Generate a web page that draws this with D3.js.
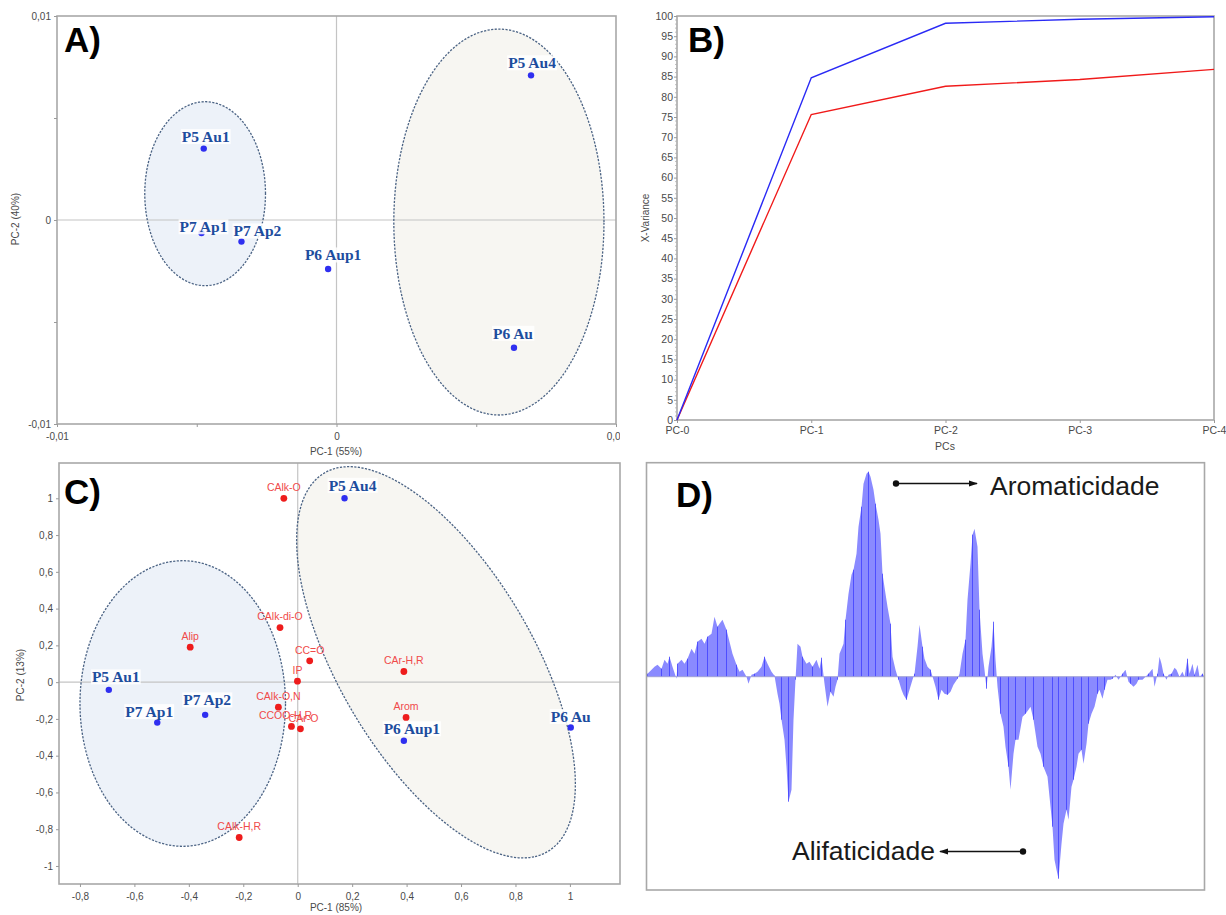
<!DOCTYPE html>
<html><head><meta charset="utf-8">
<script src="https://cdn.jsdelivr.net/npm/d3@7"></script>
<style>body{margin:0;background:#fff} svg{display:block}</style>
</head><body>
<svg id="fig" width="1226" height="915"></svg>
<script>
// ---------------- DATA ----------------
const samples = ["P5 Au4","P5 Au1","P7 Ap1","P7 Ap2","P6 Aup1","P6 Au"];
// Panel A: PCA scores
const scoresA_pc1 = [0.00696,-0.00475,-0.00483,-0.00340,-0.00030,0.00635];
const scoresA_pc2 = [0.00709,0.00350,-0.00064,-0.00106,-0.00240,-0.00626];
// ellipses: [cx, cy, rx, ry, angleDeg]
const ellipsesA = [[-0.00470,0.00129,0.00216,0.00451,0],[0.00581,-0.0001,0.00376,0.00946,0]];
const ticksA = [-0.01,-0.005,0,0.005,0.01];
const tickLabelsA = [-0.01,0,0.01];
// Panel B: explained variance
const pcs = ["PC-0","PC-1","PC-2","PC-3","PC-4"];
const varianceCal = [0,84.7,98.2,99.2,99.8];
const varianceVal = [0,75.6,82.6,84.3,86.8];
const ticksB = d3.range(0,101,5);
// Panel C: biplot
const scoresC_pc1 = [0.172,-0.694,-0.516,-0.340,0.390,1.003];
const scoresC_pc2 = [1.000,-0.042,-0.220,-0.178,-0.319,-0.247];
const loadingNames = ["CAlk-O","CAlk-di-O","Alip","CC=O","IP","CAr-H,R","CAlk-O,N","Arom","CCOO-H,R","CAr-O","CAlk-H,R"];
const loadingsC_pc1 = [-0.051,-0.065,-0.395,0.044,-0.001,0.390,-0.071,0.398,-0.023,0.010,-0.215];
const loadingsC_pc2 = [1.000,0.297,0.190,0.116,0.005,0.058,-0.136,-0.192,-0.241,-0.254,-0.845];
const ellipsesC = [[-0.4224,-0.1163,0.3776,0.777,0],[0.508,0.108,1.118,0.381,-71]];
const ticksCx = [-0.8,-0.6,-0.4,-0.2,0,0.2,0.4,0.6,0.8,1];
const ticksCy = [-1,-0.8,-0.6,-0.4,-0.2,0,0.2,0.4,0.6,0.8,1];
// Panel D: loading spectrum (variable index, loading)
const dIdx = [0,1,8,11,15,18,21,23,26,30,31,35,38,41,45,48,51,55,58,61,65,68,71,73,76,80,83,86,90,93,96,100,102,105,108,111,115,118,121,125,128,131,133,135,138,140,142,145,147,149,151,154,156,160,163,166,170,173,175,178,181,184,187,189,191,193,197,199,202,205,207,210,212,215,217,220,222,224,227,229,232,234,236,239,241,244,246,249,252,255,257,260,263,266,268,271,273,276,278,281,284,287,289,292,295,298,301,304,307,311,313,316,319,321,324,326,328,331,333,336,338,340,342,345,347,349,351,354,357,359,362,364,367,369,372,376,379,382,384,387,391,394,397,401,403,406,408,410,412,415,417,420,422,425,427,430,432,435,437,440,442,445,448,451,453,456,458,461,464,466,469,472,476,479,482,484,487,490,492,496,499,502,506,508,511,513,515,517,520,522,525,528,530,533,536,538,541,543,546,548,551,553,556,558];
const dLoad = [0,0.003,0.010,0.012,0.008,0.017,0.013,0.020,0.010,-0.002,0.013,0.017,0.013,0.018,0.028,0.023,0.035,0.038,0.033,0.040,0.043,0.060,0.050,0.053,0.057,0.047,0.035,0.023,0.012,0.005,0.007,0.000,-0.007,0.002,0.003,0.005,0.010,0.020,0.013,0.005,0.001,-0.017,-0.027,-0.043,-0.063,-0.090,-0.125,-0.113,-0.043,-0.003,0.033,0.030,0.020,0.013,0.015,0.010,0.017,0.008,0.019,-0.007,-0.030,-0.015,-0.020,-0.010,-0.003,0.023,0.033,0.057,0.083,0.102,0.107,0.123,0.150,0.170,0.193,0.203,0.205,0.200,0.187,0.173,0.157,0.143,0.103,0.083,0.070,0.053,0.020,0.007,-0.003,-0.013,-0.018,-0.023,-0.013,-0.003,0.003,0.030,0.052,0.030,0.018,0.010,0.007,-0.003,-0.010,-0.023,-0.013,-0.017,-0.018,-0.015,-0.008,-0.002,0.003,0.023,0.037,0.077,0.113,0.142,0.148,0.130,0.067,0.023,0.007,-0.012,0.010,0.030,0.055,0.017,-0.010,-0.037,-0.050,-0.070,-0.090,-0.113,-0.077,-0.063,-0.063,-0.040,-0.037,-0.033,-0.030,-0.043,-0.070,-0.077,-0.090,-0.100,-0.120,-0.150,-0.183,-0.193,-0.202,-0.167,-0.147,-0.133,-0.143,-0.110,-0.103,-0.090,-0.077,-0.073,-0.087,-0.067,-0.047,-0.037,-0.030,-0.017,-0.013,-0.022,-0.013,-0.003,-0.003,-0.002,0.002,-0.003,0.003,0.007,-0.005,-0.007,-0.010,-0.007,-0.003,-0.003,0.000,0.003,0.008,-0.010,0.003,0.020,0.013,0.003,-0.003,0.002,0.003,0.009,0.007,0.000,0.005,0.000,0.018,0.003,0.013,0.002,0.012,0.000,0.003,0];

// ---------------- STYLE / LAYOUT ----------------
const labelOffA = [[1,-12.6],[2,-12],[2,-6.3],[16,-10.7],[5,-14],[-1,-14.4]];
const labelOffC = [[8,-13],[7,-13],[-8,-11],[2,-15],[8,-12],[0,-11]];
const loadLabelDx = [0,0,0,0,0,0,0,0,-6,3,0];
const frameColor = "#a8a8a8", tickText = "#4a4a4a";
const sampleColor = "#2f2ff0", sampleText = "#1d4d9e";
const font = "'Liberation Sans', Arial, sans-serif";
const serif = "'Liberation Serif', 'Times New Roman', serif";

const svg = d3.select("#fig");
const loc = d3.formatLocale({decimal:",",thousands:".",grouping:[3],currency:["",""],minus:"-"});
const fmt = loc.format("~g");

function ellipsePath(xs, ys, e){
  const [cx,cy,rx,ry,ang] = e, a = ang*Math.PI/180;
  const pts = d3.range(0,361,3).map(t=>{
    const r=t*Math.PI/180;
    const X = cx + rx*Math.cos(r)*Math.cos(a) - ry*Math.sin(r)*Math.sin(a);
    const Y = cy + rx*Math.cos(r)*Math.sin(a) + ry*Math.sin(r)*Math.cos(a);
    return [xs(X), ys(Y)];
  });
  return d3.line().curve(d3.curveLinearClosed)(pts);
}
const ellFill = ["#edf2f9","#f7f6f2"];

function frame(g, xs, ys){
  const [x0,x1]=xs.range(), [y0,y1]=ys.range();
  g.append("rect").attr("x",x0).attr("y",y1).attr("width",x1-x0).attr("height",y0-y1)
   .attr("fill","none").attr("stroke",frameColor).attr("stroke-width",1.6);
}
function zeroLines(g,xs,ys){
  const [x0,x1]=xs.range(), [y0,y1]=ys.range();
  g.append("line").attr("x1",xs(0)).attr("x2",xs(0)).attr("y1",y1).attr("y2",y0).attr("stroke","#c4c4c4").attr("stroke-width",1.2);
  g.append("line").attr("x1",x0).attr("x2",x1).attr("y1",ys(0)).attr("y2",ys(0)).attr("stroke","#c4c4c4").attr("stroke-width",1.2);
}
function styleAxis(ax){
  ax.select(".domain").remove();
  ax.selectAll(".tick line").attr("stroke","#9a9a9a");
  ax.selectAll(".tick text").attr("fill",tickText).style("font-family",font).style("font-size","10px");
}
function sampleLabels(g, xs, ys, px, py, offs){
  samples.forEach((s,i)=>{
    const cx = xs(px[i])+offs[i][0], cy = ys(py[i])+offs[i][1];
    const t = g.append("text").attr("x",cx).attr("y",cy).attr("text-anchor","middle")
      .attr("dominant-baseline","central").attr("fill",sampleText)
      .style("font-family",serif).style("font-weight","bold").style("font-size","15.5px").text(s);
    const bb = t.node().getBBox();
    g.insert("rect", () => t.node()).attr("x",bb.x-1).attr("y",bb.y+1).attr("width",bb.width+2).attr("height",bb.height-2)
      .attr("fill","#fff").attr("opacity",0.85);
  });
}
function panelLetter(x,y,txt){
  svg.append("text").attr("x",x).attr("y",y).text(txt).attr("fill","#000")
    .style("font-family",font).style("font-weight","bold").style("font-size","35px");
}

// ---------------- PANEL A ----------------
const xA = d3.scaleLinear().domain([-0.01,0.01]).range([57,616]);
const yA = d3.scaleLinear().domain([-0.01,0.01]).range([424,16]);
svg.append("clipPath").attr("id","clipA").append("rect").attr("x",0).attr("y",0).attr("width",620).attr("height",470);
const gA = svg.append("g").attr("clip-path","url(#clipA)");
ellipsesA.forEach((e,i)=> gA.append("path").attr("d",ellipsePath(xA,yA,e)).attr("fill",ellFill[i]));
zeroLines(gA,xA,yA);
ellipsesA.forEach(e=> gA.append("path").attr("d",ellipsePath(xA,yA,e)).attr("fill","none")
  .attr("stroke","#4b6384").attr("stroke-width",1.3).attr("stroke-dasharray","2.2,1.4"));
frame(gA,xA,yA);
const axAx = gA.append("g").attr("transform","translate(0,424)")
  .call(d3.axisBottom(xA).tickValues(ticksA).tickSize(3).tickFormat(d=>tickLabelsA.includes(d)?fmt(d):""));
styleAxis(axAx); axAx.selectAll(".tick text").attr("dy","0.95em");
const axAy = gA.append("g").attr("transform","translate(57,0)")
  .call(d3.axisLeft(yA).tickValues(ticksA).tickSize(3).tickFormat(d=>tickLabelsA.includes(d)?fmt(d):""));
styleAxis(axAy);
gA.append("text").attr("x",336).attr("y",455).attr("text-anchor","middle").attr("fill",tickText)
  .style("font-family",font).style("font-size","10px").text("PC-1 (55%)");
gA.append("text").attr("transform","translate(19,219) rotate(-90)").attr("text-anchor","middle").attr("fill",tickText)
  .style("font-family",font).style("font-size","10px").text("PC-2 (40%)");
gA.selectAll("circle.s").data(samples).join("circle").attr("cx",(d,i)=>xA(scoresA_pc1[i])).attr("cy",(d,i)=>yA(scoresA_pc2[i]))
  .attr("r",3.2).attr("fill",sampleColor);
sampleLabels(gA,xA,yA,scoresA_pc1,scoresA_pc2,labelOffA);
panelLetter(64,52,"A)");

// ---------------- PANEL B ----------------
const xB = d3.scalePoint().domain(pcs).range([677,1214]);
const yB = d3.scaleLinear().domain([0,100]).range([420,16]);
const gB = svg.append("g");
frame(gB,{range:()=>[677,1214]},yB);
const axBy = gB.append("g").attr("transform","translate(677,0)")
  .call(d3.axisLeft(yB).tickValues(ticksB).tickSize(3).tickFormat(d3.format("d")));
styleAxis(axBy); axBy.selectAll(".tick text").style("font-size","10.5px").attr("x",-4);
gB.append("g").selectAll("line").data(d3.range(0,100,1).filter(v=>v%5)).join("line")
  .attr("x1",675).attr("x2",677).attr("y1",d=>yB(d)).attr("y2",d=>yB(d)).attr("stroke","#b0b0b0").attr("stroke-width",0.8);
const axBx = gB.append("g").attr("transform","translate(0,420)").call(d3.axisBottom(xB).tickSize(3));
styleAxis(axBx); axBx.selectAll(".tick text").style("font-size","10.5px").attr("dy","0.8em");
const lineB = d3.line().x((d,i)=>xB(pcs[i])).y(d=>yB(d));
gB.append("path").attr("d",lineB(varianceVal)).attr("fill","none").attr("stroke","#f01a1a").attr("stroke-width",1.4);
gB.append("path").attr("d",lineB(varianceCal)).attr("fill","none").attr("stroke","#2a2af5").attr("stroke-width",1.4);
gB.append("text").attr("x",945).attr("y",450).attr("text-anchor","middle").attr("fill",tickText)
  .style("font-family",font).style("font-size","10.5px").text("PCs");
gB.append("text").attr("transform","translate(649,218) rotate(-90)").attr("text-anchor","middle").attr("fill",tickText)
  .style("font-family",font).style("font-size","10px").text("X-Variance");
panelLetter(688,52,"B)");

// ---------------- PANEL C ----------------
const xC = d3.scaleLinear().domain([-0.877,1.184]).range([59,620]);
const yC = d3.scaleLinear().domain([-1.098,1.192]).range([884,463]);
const gC = svg.append("g");
ellipsesC.forEach((e,i)=> gC.append("path").attr("d",ellipsePath(xC,yC,e)).attr("fill",ellFill[i]));
zeroLines(gC,xC,yC);
ellipsesC.forEach(e=> gC.append("path").attr("d",ellipsePath(xC,yC,e)).attr("fill","none")
  .attr("stroke","#4b6384").attr("stroke-width",1.3).attr("stroke-dasharray","2.2,1.4"));
frame(gC,xC,yC);
const axCx = gC.append("g").attr("transform","translate(0,884)").call(d3.axisBottom(xC).tickValues(ticksCx).tickSize(3).tickFormat(fmt));
styleAxis(axCx); axCx.selectAll(".tick text").attr("dy","0.95em");
const axCy = gC.append("g").attr("transform","translate(59,0)").call(d3.axisLeft(yC).tickValues(ticksCy).tickSize(3).tickFormat(fmt));
styleAxis(axCy); axCy.selectAll(".tick text").attr("x",-6);
gC.append("text").attr("x",336).attr("y",911).attr("text-anchor","middle").attr("fill",tickText)
  .style("font-family",font).style("font-size","10px").text("PC-1 (85%)");
gC.append("text").attr("transform","translate(24,675) rotate(-90)").attr("text-anchor","middle").attr("fill",tickText)
  .style("font-family",font).style("font-size","10px").text("PC-2 (13%)");
// loadings
loadingNames.forEach((n,i)=>{
  gC.append("circle").attr("cx",xC(loadingsC_pc1[i])).attr("cy",yC(loadingsC_pc2[i])).attr("r",3.4).attr("fill","#ee1c1c");
});
loadingNames.forEach((n,i)=>{
  gC.append("text").attr("x",xC(loadingsC_pc1[i])+loadLabelDx[i]).attr("y",yC(loadingsC_pc2[i])-11.3)
    .attr("text-anchor","middle").attr("dominant-baseline","central").attr("fill","#f04a4a")
    .style("font-family",font).style("font-size","10.5px").text(n);
});
gC.selectAll("circle.s").data(samples).join("circle").attr("cx",(d,i)=>xC(scoresC_pc1[i])).attr("cy",(d,i)=>yC(scoresC_pc2[i]))
  .attr("r",3.2).attr("fill",sampleColor);
sampleLabels(gC,xC,yC,scoresC_pc1,scoresC_pc2,labelOffC);
panelLetter(64,504,"C)");

// ---------------- PANEL D ----------------
const xD = d3.scaleLinear().domain([0,558]).range([646.5,1204.5]);
const yD = d3.scaleLinear().domain([-0.2133,0.214]).range([890,462.7]);
const gD = svg.append("g");
gD.append("path").attr("d", d3.area().x((d,i)=>xD(dIdx[i])).y0(yD(0)).y1(d=>yD(d))(dLoad))
  .attr("fill","#8a8aff");
dLoad.forEach((v,i)=>{ if(i%3===1){
  gD.append("line").attr("x1",xD(dIdx[i])).attr("x2",xD(dIdx[i])).attr("y1",yD(0)).attr("y2",yD(v))
    .attr("stroke","#3b3bff").attr("stroke-width",1).attr("opacity",0.75);
}});
gD.append("line").attr("x1",646.5).attr("x2",1204.5).attr("y1",yD(0)).attr("y2",yD(0)).attr("stroke","#a0a0d8").attr("stroke-width",1);
frame(gD,xD,yD);
panelLetter(676,507,"D)");
gD.append("text").attr("x",990).attr("y",495).attr("fill","#1a1a1a").style("font-family",font).style("font-size","26.5px").text("Aromaticidade");
gD.append("text").attr("x",792).attr("y",860).attr("fill","#1a1a1a").style("font-family",font).style("font-size","26.5px").text("Alifaticidade");
const defs = svg.append("defs");
defs.append("marker").attr("id","arr").attr("viewBox","0 0 10 10").attr("refX",9).attr("refY",5)
  .attr("markerWidth",7).attr("markerHeight",7).attr("orient","auto-start-reverse")
  .append("path").attr("d","M0,1.5L10,5L0,8.5z").attr("fill","#111");
gD.append("line").attr("x1",896).attr("x2",977).attr("y1",483.5).attr("y2",483.5).attr("stroke","#111").attr("stroke-width",1.3).attr("marker-end","url(#arr)");
gD.append("circle").attr("cx",896).attr("cy",483.5).attr("r",3.2).attr("fill","#111");
gD.append("line").attr("x1",1023).attr("x2",940).attr("y1",851.5).attr("y2",851.5).attr("stroke","#111").attr("stroke-width",1.3).attr("marker-end","url(#arr)");
gD.append("circle").attr("cx",1023).attr("cy",851.5).attr("r",3.2).attr("fill","#111");
</script>
</body></html>
